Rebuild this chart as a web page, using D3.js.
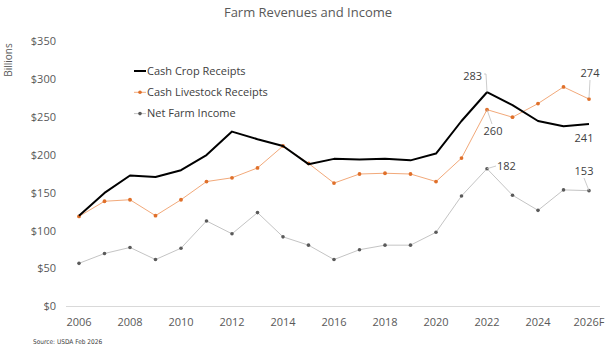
<!DOCTYPE html>
<html>
<head>
<meta charset="utf-8">
<script src="https://cdn.jsdelivr.net/npm/d3@7"></script>
<style>
  body { margin: 0; background: #fff; }
  svg text { font-family: "Open Sans", "DejaVu Sans", sans-serif; }
</style>
</head>
<body>
<div id="chart"></div>
<script>
const years = ["2006","2007","2008","2009","2010","2011","2012","2013","2014","2015","2016","2017","2018","2019","2020","2021","2022","2023","2024","2025","2026"];
const tickYears = ["2006","2008","2010","2012","2014","2016","2018","2020","2022","2024","2026"];
const tickLabels = ["2006","2008","2010","2012","2014","2016","2018","2020","2022","2024","2026F"];
const crop = [120,150,173,171,180,200,231,221,212,188,195,194,195,193,202,245,283,266,245,238,241];
const livestock = [119,139,141,120,141,165,170,183,212,189,163,175,176,175,165,196,260,250,268,290,274];
const netIncome = [57,70,78,62,77,113,96,124,92,81,62,75,81,81,98,146,182,147,127,154,153];
const yTicks = [0,50,100,150,200,250,300,350];

const width = 616, height = 353;
const svg = d3.select("#chart").append("svg")
  .attr("width", width).attr("height", height);

const x = d3.scalePoint().domain(years).range([79, 589]);
const y = d3.scaleLinear().domain([0, 350]).range([306.5, 41.5]);

// title
svg.append("text")
  .attr("x", 308).attr("y", 17)
  .attr("text-anchor", "middle")
  .style("font-size", "13px")
  .style("fill", "#595959")
  .text("Farm Revenues and Income");

// y axis label
svg.append("text")
  .attr("transform", "translate(12,60) rotate(-90)")
  .attr("text-anchor", "middle")
  .style("font-size", "10px")
  .style("fill", "#595959")
  .text("Billions");

// baseline
svg.append("line")
  .attr("x1", 66).attr("x2", 600)
  .attr("y1", y(0)).attr("y2", y(0))
  .attr("stroke", "#d9d9d9").attr("stroke-width", 1);

// y ticks
svg.append("g").selectAll("text").data(yTicks).join("text")
  .attr("x", 56).attr("y", d => y(d)).attr("dy", "0.35em")
  .attr("text-anchor", "end")
  .style("font-size", "11px").style("fill", "#595959")
  .text(d => "$" + d);

// x ticks
svg.append("g").selectAll("text").data(tickYears).join("text")
  .attr("x", d => x(d)).attr("y", 322).attr("dy", "0.35em")
  .attr("text-anchor", "middle")
  .style("font-size", "11px").style("fill", "#595959")
  .text((d, i) => tickLabels[i]);

const line = d3.line().x((d, i) => x(years[i])).y(d => y(d));

// net farm income
svg.append("path").datum(netIncome)
  .attr("fill", "none").attr("stroke", "#c4c4c4").attr("stroke-width", 1)
  .attr("d", line);
svg.append("g").selectAll("circle").data(netIncome).join("circle")
  .attr("cx", (d, i) => x(years[i])).attr("cy", d => y(d)).attr("r", 1.8)
  .attr("fill", "#5a5a5a");

// livestock
svg.append("path").datum(livestock)
  .attr("fill", "none").attr("stroke", "#f2a97a").attr("stroke-width", 1)
  .attr("d", line);
svg.append("g").selectAll("circle").data(livestock).join("circle")
  .attr("cx", (d, i) => x(years[i])).attr("cy", d => y(d)).attr("r", 1.9)
  .attr("fill", "#e0702a");

// crop
svg.append("path").datum(crop)
  .attr("fill", "none").attr("stroke", "#000").attr("stroke-width", 2)
  .attr("stroke-linejoin", "round")
  .attr("d", line);

// annotations
const i22 = years.indexOf("2022"), i26 = years.indexOf("2026");
const ann = svg.append("g").style("font-size", "11px").style("fill", "#404040");
const lead = (pts) => svg.append("polyline")
  .attr("points", pts.map(p => p.join(",")).join(" "))
  .attr("fill", "none").attr("stroke", "#bfbfbf").attr("stroke-width", 0.8);

lead([[484, 74], [486, 74], [x(years[i22]), y(crop[i22])]]);
ann.append("text").attr("x", 482).attr("y", 76).attr("dy", "0.35em").attr("text-anchor", "end").text(crop[i22]);

lead([[x(years[i22]), y(livestock[i22])], [492, 124]]);
ann.append("text").attr("x", 493).attr("y", 131).attr("dy", "0.35em").attr("text-anchor", "middle").text(livestock[i22]);

lead([[x(years[i22]), y(netIncome[i22])], [496, 166]]);
ann.append("text").attr("x", 497).attr("y", 166).attr("dy", "0.35em").text(netIncome[i22]);

lead([[590, 80], [x(years[i26]), y(livestock[i26]) - 1]]);
ann.append("text").attr("x", 590).attr("y", 73).attr("dy", "0.35em").attr("text-anchor", "middle").text(livestock[i26]);

ann.append("text").attr("x", 584).attr("y", 138).attr("dy", "0.35em").attr("text-anchor", "middle").text(crop[i26]);

lead([[584, 178], [x(years[i26]), y(netIncome[i26])]]);
ann.append("text").attr("x", 584).attr("y", 171).attr("dy", "0.35em").attr("text-anchor", "middle").text(netIncome[i26]);

// legend
const legendItems = [
  { name: "Cash Crop Receipts", stroke: "#000", w: 2, dot: null },
  { name: "Cash Livestock Receipts", stroke: "#f2a97a", w: 1, dot: "#e0702a" },
  { name: "Net Farm Income", stroke: "#c4c4c4", w: 1, dot: "#5a5a5a" }
];
const lg = svg.append("g").selectAll("g").data(legendItems).join("g")
  .attr("transform", (d, i) => `translate(134,${71 + i * 21.3})`);
lg.append("line").attr("x1", 0).attr("x2", 12)
  .attr("stroke", d => d.stroke).attr("stroke-width", d => d.w);
lg.filter(d => d.dot).append("circle").attr("cx", 6).attr("r", 1.8).attr("fill", d => d.dot);
lg.append("text").attr("x", 13).attr("dy", "0.35em")
  .style("font-size", "11px").style("fill", "#404040")
  .text(d => d.name);

// source
svg.append("text")
  .attr("x", 33).attr("y", 344)
  .style("font-size", "6.5px").style("fill", "#404040")
  .style("font-family", "'Liberation Sans Narrow', 'DejaVu Sans Condensed', sans-serif")
  .text("Source: USDA Feb 2026");
</script>
</body>
</html>
